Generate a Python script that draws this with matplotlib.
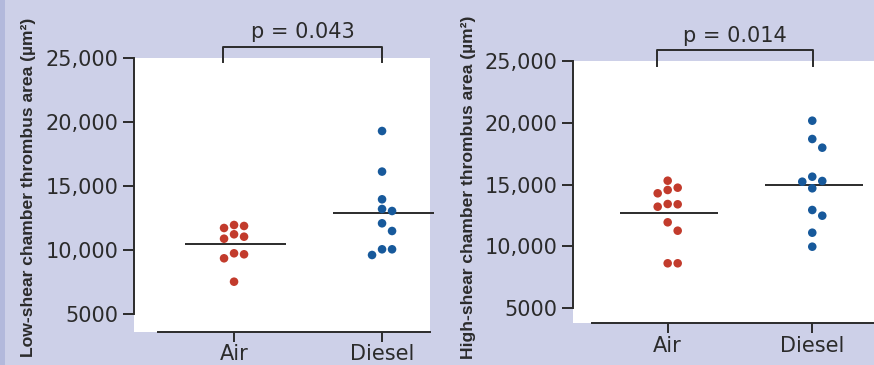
import numpy as np
import matplotlib
matplotlib.use("Agg")
import matplotlib.pyplot as plt
from matplotlib.patches import Rectangle

# ---------------- data ----------------
categories = ["Air", "Diesel"]

low_air = [11900, 11742, 11977, 11250, 10906, 11063, 9688, 9375, 9766, 7547]
low_diesel = [19320, 16148, 13984, 13070, 13227, 12109, 11508, 10078, 9633, 10078]

high_air = [15320, 14754, 14301, 14568, 13411, 13217, 13435, 11955, 11276, 8640, 8640]
high_diesel = [20172, 18692, 17989, 15239, 15643, 15296, 14705, 12950, 12489, 11114, 9982]

yticks = [5000, 10000, 15000, 20000, 25000]
ytick_labels = ["5000", "10,000", "15,000", "20,000", "25,000"]

p_values = ["p = 0.043", "p = 0.014"]
ylabels = ["Low-shear chamber thrombus area (\u00b5m\u00b2)",
           "High-shear chamber thrombus area (\u00b5m\u00b2)"]

# ---------------- style ----------------
BG = "#cdd0e8"
RED = "#c23b2c"
BLUE = "#17599b"
INK = "#2b2b2b"
W, H = 874, 365

fig = plt.figure(figsize=(W / 100, H / 100), dpi=100, facecolor=BG)
fig.patches.append(Rectangle((0, 0), 5 / W, 1, transform=fig.transFigure,
                             facecolor="#b3b9dc", edgecolor="none", zorder=0))


def swarm(values, px_per_unit_x, px_per_unit_y, diam=10.0):
    """Simple deterministic beeswarm offsets (in category units)."""
    order = np.argsort(values)[::-1]
    placed = []
    offs = np.zeros(len(values))
    cands = [0.0]
    for k in range(1, 5):
        cands += [k * diam, -k * diam]
    for i in order:
        yv = values[i] * px_per_unit_y
        for c in cands:
            ok = True
            for (px, py) in placed:
                if (c - px) ** 2 + (yv - py) ** 2 < (diam * 0.9) ** 2:
                    ok = False
                    break
            if ok:
                offs[i] = c / px_per_unit_x
                placed.append((c, yv))
                break
    return offs


def panel(rect_px, xlim, ylim, spine_x0, groups, ylabel, ptxt, bracket,
          ylabel_x):
    left, top, right, bottom = rect_px
    ax = fig.add_axes([left / W, 1 - bottom / H, (right - left) / W,
                       (bottom - top) / H])
    ax.set_facecolor("white")
    ax.set_xlim(*xlim)
    ax.set_ylim(*ylim)
    ppx = (right - left) / (xlim[1] - xlim[0])
    ppy = (bottom - top) / (ylim[1] - ylim[0])
    for i, (vals, col) in enumerate(groups):
        v = np.asarray(vals, float)
        off = swarm(v, ppx, ppy)
        ax.scatter(i + off, v, s=38, color=col, edgecolors="none", zorder=3,
                   clip_on=False)
        m = v.mean()
        ax.plot([i - 0.33, i + 0.35], [m, m], color=INK, lw=1.4, zorder=2,
                solid_capstyle="butt", clip_on=False)
    for s in ["top", "right"]:
        ax.spines[s].set_visible(False)
    ax.spines["left"].set_bounds(5000, 25000)
    ax.spines["bottom"].set_bounds(spine_x0, xlim[1])
    for s in ["left", "bottom"]:
        ax.spines[s].set_color(INK)
        ax.spines[s].set_linewidth(1.4)
    ax.set_yticks(yticks)
    ax.set_yticklabels(ytick_labels)
    ax.set_xticks(range(len(categories)))
    ax.set_xticklabels(categories)
    ax.tick_params(axis="y", direction="out", length=8, width=1.4,
                   color=INK, labelsize=15, labelcolor=INK, pad=3)
    ax.tick_params(axis="x", direction="out", length=7, width=1.4,
                   color=INK, labelsize=15, labelcolor=INK, pad=2)
    for lab in ax.get_xticklabels() + ax.get_yticklabels():
        lab.set_family("DejaVu Sans")
    # bracket
    bx0, bx1, by_top, by_bot = bracket
    ax.plot([bx0, bx0, bx1, bx1], [by_bot, by_top, by_top, by_bot],
            color=INK, lw=1.4, clip_on=False)
    ax.text((bx0 + bx1) / 2, by_top + 350, ptxt, ha="center", va="bottom",
            fontsize=15, color=INK, family="DejaVu Sans")
    fig.text(ylabel_x / W, 1 - 187 / H, ylabel, rotation=90, ha="center",
             va="center", fontsize=12.6, fontweight="bold", color=INK,
             family="Liberation Sans")
    return ax


panel((134, 58.3, 430, 332), (-0.676, 1.324), (3617, 25000), -0.514,
      [(low_air, RED), (low_diesel, BLUE)], ylabels[0], p_values[0],
      (-0.072, 1.0, 25900, 24700), 29)

panel((572.7, 61, 874, 323.3), (-0.657, 1.427), (3787, 25000), -0.526,
      [(high_air, RED), (high_diesel, BLUE)], ylabels[1], p_values[1],
      (-0.076, 1.007, 25890, 24600), 469)

fig.savefig("out.png", dpi=100, facecolor=BG)
